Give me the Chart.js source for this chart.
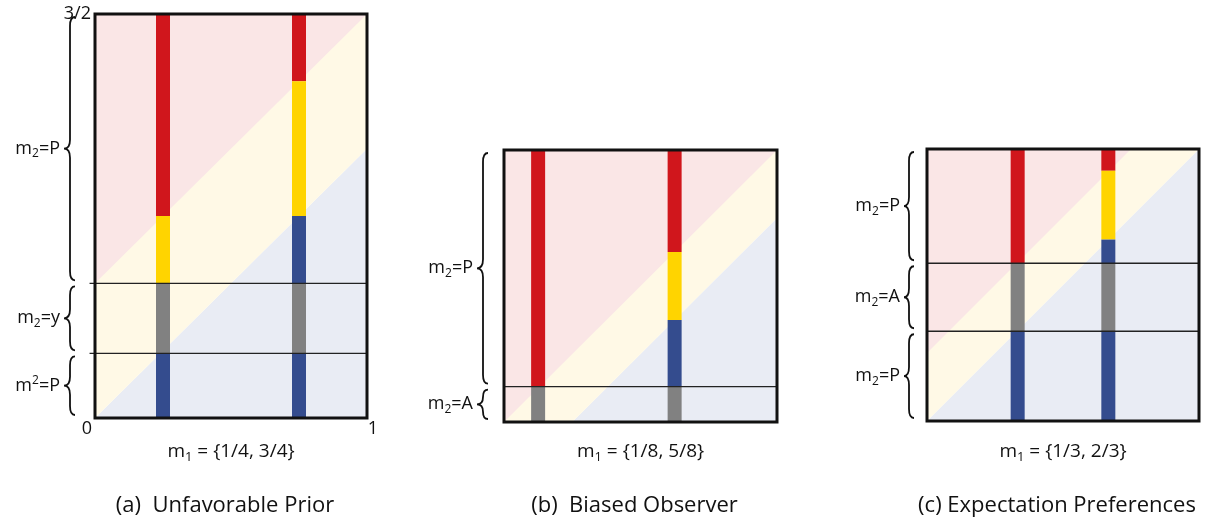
<!DOCTYPE html>
<html lang="en">
<head>
<meta charset="UTF-8">
<title>Observer panels</title>
<script src="https://cdn.jsdelivr.net/npm/chart.js"></script>
<style>
    html, body { margin: 0; padding: 0; background: #fff; }
    #wrap { position: relative; width: 1210px; height: 525px; overflow: hidden; }
    canvas { position: absolute; top: 0; }
</style>
</head>
<body>
<div id="wrap">
    <canvas id="panelA" width="400" height="525" style="left:0px"></canvas>
    <canvas id="panelB" width="405" height="525" style="left:400px"></canvas>
    <canvas id="panelC" width="405" height="525" style="left:805px"></canvas>
</div>
<script>
// ---- data ----
// (a) Unfavorable Prior
const aYMax = 1.5;
const aBarX = [0.25, 0.75];
const aBarBreaks = [[0, 0.24, 0.5, 0.75, 1.5], [0, 0.24, 0.5, 0.75, 1.25, 1.5]];
const aBarKinds = [['lower', 'obs', 'band', 'upper'], ['lower', 'obs', 'lower', 'band', 'upper']];
const aRegionOffsets = [0, 0.5];      // region edges: y = x + offset
const aCuts = [0.24, 0.5];
const aBraceLo = [0.5, 0.24, 0];
const aBraceHi = [1.5, 0.5, 0.24];
const aBraceText = ['m_2=P', 'm_2=y', 'm^2=P'];
const aTickX = [0, 1];
const aTickXText = ['0', '1'];
const aTickY = [1.5];
const aTickYText = ['3/2'];
const aXLabel = 'm_1 = {1/4, 3/4}';
const aCaption = '(a)  Unfavorable Prior';

// (b) Biased Observer
const bYMax = 1;
const bBarX = [0.125, 0.625];
const bBarBreaks = [[0, 0.13, 1], [0, 0.13, 0.375, 0.625, 1]];
const bBarKinds = [['obs', 'upper'], ['obs', 'lower', 'band', 'upper']];
const bRegionOffsets = [-0.25, 0];
const bCuts = [0.13];
const bBraceLo = [0.13, 0];
const bBraceHi = [1, 0.13];
const bBraceText = ['m_2=P', 'm_2=A'];
const bXLabel = 'm_1 = {1/8, 5/8}';
const bCaption = '(b)  Biased Observer';

// (c) Expectation Preferences
const cYMax = 1;
const cBarX = [1 / 3, 2 / 3];
const cBarBreaks = [[0, 0.33, 0.58, 1], [0, 0.33, 0.58, 0.667, 0.92, 1]];
const cBarKinds = [['lower', 'obs', 'upper'], ['lower', 'obs', 'lower', 'band', 'upper']];
const cRegionOffsets = [0, 0.25];
const cCuts = [0.33, 0.58];
const cBraceLo = [0.58, 0.33, 0];
const cBraceHi = [1, 0.58, 0.33];
const cBraceText = ['m_2=P', 'm_2=A', 'm_2=P'];
const cXLabel = 'm_1 = {1/3, 2/3}';
const cCaption = '(c) Expectation Preferences';

// ---- styles ----
const barColors = { lower: '#344c8e', obs: '#818181', band: '#ffd400', upper: '#d0161c' };
const regionColors = { lower: '#e9ecf4', band: '#fff9e6', upper: '#fae6e6' };
const FONT = "'Open Sans', sans-serif";

// text with _x (subscript) and ^x (superscript)
function richParts(s) {
    const parts = [];
    for (let i = 0; i < s.length; i++) {
        if ((s[i] === '_' || s[i] === '^') && i + 1 < s.length) {
            parts.push({ t: s[i + 1], k: s[i] });
            i++;
        } else if (parts.length && !parts[parts.length - 1].k) {
            parts[parts.length - 1].t += s[i];
        } else {
            parts.push({ t: s[i], k: null });
        }
    }
    return parts;
}

function drawRich(ctx, s, x, y, align, size) {
    const parts = richParts(s);
    const small = Math.round(size * 0.66);
    let total = 0;
    parts.forEach(p => {
        ctx.font = (p.k ? small : size) + 'px ' + FONT;
        p.w = ctx.measureText(p.t).width;
        total += p.w;
    });
    let cx = align === 'right' ? x - total : align === 'center' ? x - total / 2 : x;
    ctx.textBaseline = 'middle';
    ctx.textAlign = 'left';
    parts.forEach(p => {
        ctx.font = (p.k ? small : size) + 'px ' + FONT;
        let dy = 0;
        if (p.k === '_') dy = size * 0.3;
        if (p.k === '^') dy = -size * 0.3;
        ctx.fillText(p.t, cx, y + dy);
        cx += p.w;
    });
}

function drawBrace(ctx, xs, y1, y2, tip, end) {
    const ym = (y1 + y2) / 2;
    const r = Math.min(9, (y2 - y1) / 4);
    ctx.beginPath();
    ctx.moveTo(xs + end, y1);
    ctx.quadraticCurveTo(xs, y1, xs, y1 + r);
    ctx.lineTo(xs, ym - r);
    ctx.quadraticCurveTo(xs, ym, xs - tip, ym);
    ctx.quadraticCurveTo(xs, ym, xs, ym + r);
    ctx.lineTo(xs, y2 - r);
    ctx.quadraticCurveTo(xs, y2, xs + end, y2);
    ctx.stroke();
}

function makePanel(id, p) {
    const datasets = [];
    // background regions
    const edge = off => [{ x: 0, y: off }, { x: 1, y: 1 + off }];
    const none = 'rgba(0,0,0,0)';
    datasets.push({ data: edge(p.offsets[0]), fill: 'start', backgroundColor: regionColors.lower, borderColor: none, order: 6 });
    datasets.push({ data: edge(p.offsets[0]), fill: 'end', backgroundColor: regionColors.band, borderColor: none, order: 5 });
    datasets.push({ data: edge(p.offsets[1]), fill: 'end', backgroundColor: regionColors.upper, borderColor: none, order: 4 });
    // bars
    p.barX.forEach((bx, i) => {
        const br = p.breaks[i];
        p.kinds[i].forEach((k, j) => {
            datasets.push({
                data: [{ x: bx, y: br[j] }, { x: bx, y: br[j + 1] }],
                borderColor: barColors[k], borderWidth: 14, borderCapStyle: 'butt',
                fill: false, order: 2
            });
        });
    });
    // horizontal cuts
    p.cuts.forEach(c => {
        datasets.push({
            data: [{ x: p.cutStart, y: c }, { x: 1, y: c }],
            borderColor: '#222', borderWidth: 1.4, fill: false, clip: false, order: 1
        });
    });

    const deco = {
        id: 'deco',
        afterDatasetsDraw(chart) {
            const ctx = chart.ctx, a = chart.chartArea;
            const xs = chart.scales.x, ys = chart.scales.y;
            ctx.save();
            ctx.strokeStyle = '#111';
            ctx.lineWidth = 3;
            ctx.strokeRect(a.left, a.top, a.right - a.left, a.bottom - a.top);
            // braces
            ctx.fillStyle = '#111';
            ctx.lineWidth = 1.8;
            p.braceLo.forEach((lo, i) => {
                const yTop = ys.getPixelForValue(p.braceHi[i]) + 3;
                const yBot = ys.getPixelForValue(lo) - 3;
                const spine = a.left - p.brace[0];
                drawBrace(ctx, spine, yTop, yBot, p.brace[1], p.brace[2]);
                drawRich(ctx, p.braceText[i], spine - p.brace[1] - 4, (yTop + yBot) / 2, 'right', 18);
            });
            // corner numbers
            (p.tickX || []).forEach((v, i) => {
                const px = xs.getPixelForValue(v) + (v === 0 ? -8 : 6);
                drawRich(ctx, p.tickXText[i], px, a.bottom + 11, 'center', 18);
            });
            (p.tickY || []).forEach((v, i) => {
                drawRich(ctx, p.tickYText[i], a.left - 4, ys.getPixelForValue(v), 'right', 18);
            });
            // axis label and caption
            const mid = (a.left + a.right) / 2;
            drawRich(ctx, p.xLabel, mid, 452, 'center', 19);
            drawRich(ctx, p.caption, mid - 6, 506, 'center', 22);
            ctx.restore();
        }
    };

    return new Chart(document.getElementById(id), {
        type: 'line',
        data: { datasets: datasets },
        options: {
            responsive: false,
            animation: false,
            events: [],
            layout: { padding: p.pad },
            elements: { point: { radius: 0 }, line: { tension: 0 } },
            scales: {
                x: { type: 'linear', min: 0, max: 1, display: false },
                y: { type: 'linear', min: 0, max: p.yMax, display: false }
            },
            plugins: { legend: { display: false }, tooltip: { enabled: false } }
        },
        plugins: [deco]
    });
}

makePanel('panelA', {
    yMax: aYMax, barX: aBarX, breaks: aBarBreaks, kinds: aBarKinds, offsets: aRegionOffsets,
    cuts: aCuts, cutStart: -0.02, braceLo: aBraceLo, braceHi: aBraceHi, braceText: aBraceText,
    tickX: aTickX, tickXText: aTickXText, tickY: aTickY, tickYText: aTickYText,
    xLabel: aXLabel, caption: aCaption,
    pad: { left: 95, right: 33, top: 14, bottom: 107 }, brace: [25, 6, 5]
});
makePanel('panelB', {
    yMax: bYMax, barX: bBarX, breaks: bBarBreaks, kinds: bBarKinds, offsets: bRegionOffsets,
    cuts: bCuts, cutStart: 0, braceLo: bBraceLo, braceHi: bBraceHi, braceText: bBraceText,
    xLabel: bXLabel, caption: bCaption,
    pad: { left: 104, right: 28, top: 150, bottom: 103 }, brace: [21, 6, 5]
});
makePanel('panelC', {
    yMax: cYMax, barX: cBarX, breaks: cBarBreaks, kinds: cBarKinds, offsets: cRegionOffsets,
    cuts: cCuts, cutStart: 0, braceLo: cBraceLo, braceHi: cBraceHi, braceText: cBraceText,
    xLabel: cXLabel, caption: cCaption,
    pad: { left: 122, right: 11, top: 149, bottom: 104 }, brace: [18, 5, 5]
});
</script>
</body>
</html>
